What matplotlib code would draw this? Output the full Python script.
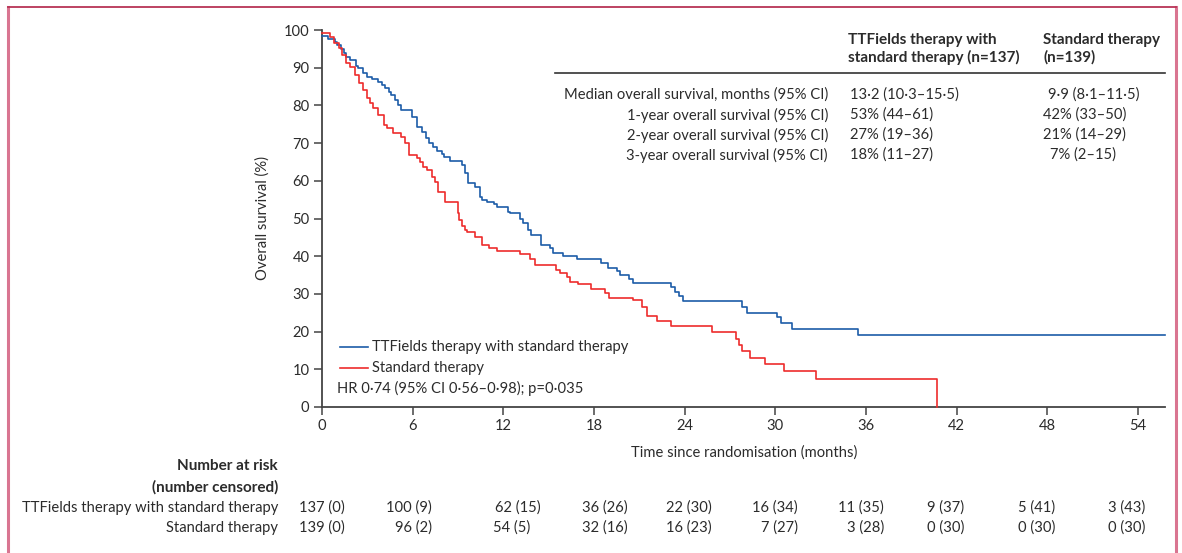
import matplotlib
matplotlib.use("Agg")
import matplotlib.pyplot as plt
from matplotlib.lines import Line2D

plt.rcParams['font.family'] = ['Lato', 'DejaVu Sans']

# ---------------- data ----------------
ttf_times = [0, 0.42, 0.86, 1.0, 1.26, 1.48, 1.6, 1.85, 2.23, 2.4, 2.69, 3.0, 3.33, 3.68, 3.95,
             4.19, 4.43, 4.6, 4.83, 5.05, 5.25, 5.93, 6.26, 6.6, 6.9, 7.1, 7.35, 7.6, 7.92, 8.1,
             8.5, 9.24, 9.45, 9.65, 10.1, 10.45, 10.6, 10.95, 11.4, 11.56, 12.3, 12.45, 13.1,
             13.3, 13.65, 13.85, 14.5, 15.1, 15.3, 15.95, 16.85, 18.5, 18.9, 19.5, 19.7, 20.3,
             20.6, 23.1, 23.35, 23.6, 23.9, 27.8, 28.1, 30.1, 30.4, 31.1, 35.5, 55.8]
ttf_surv = [98.5, 97.6, 96.9, 96.0, 95.0, 93.8, 92.9, 92.0, 90.5, 89.8, 88.5, 87.6, 87.0, 86.1, 85.4,
            84.5, 83.6, 82.8, 81.4, 80.1, 78.8, 77.0, 74.3, 73.0, 71.3, 70.0, 69.0, 68.0, 67.0, 66.4,
            65.3, 64.2, 62.0, 59.5, 58.4, 55.8, 54.9, 54.5, 53.8, 53.1, 51.8, 51.4, 49.8,
            48.7, 47.0, 45.6, 43.0, 42.3, 40.8, 40.1, 39.2, 38.1, 37.0, 36.2, 35.0, 33.9,
            32.8, 31.8, 30.6, 29.5, 28.2, 26.5, 25.0, 23.8, 22.2, 20.7, 19.1, 19.1]

std_times = [0, 0.55, 0.8, 1.1, 1.35, 1.6, 1.85, 2.2, 2.45, 2.7, 3.0, 3.2, 3.4, 3.7, 4.1, 4.3, 4.7,
             5.2, 5.5, 5.75, 6.3, 6.5, 6.7, 6.95, 7.3, 7.45, 7.7, 8.14, 9.0, 9.1, 9.25, 9.45, 9.6,
             10.1, 10.6, 11.05, 11.6, 13.1, 13.8, 14.1, 15.5, 15.75, 16.2, 16.4, 16.96, 17.8, 18.7,
             19.0, 20.56, 21.2, 21.5, 22.15, 23.1, 25.8, 27.4, 27.6, 27.8, 28.3, 29.3, 30.6, 32.7,
             40.7]
std_surv = [99.3, 98.1, 96.5, 95.2, 93.4, 91.3, 90.3, 88.1, 85.9, 84.1, 81.9, 80.6, 79.2, 77.5, 74.8,
            73.9, 72.6, 71.5, 69.9, 66.8, 66.0, 65.1, 63.7, 62.8, 61.0, 59.8, 57.1, 54.5, 51.4,
            49.6, 48.0, 47.0, 46.3, 45.0, 43.0, 42.1, 41.5, 40.6, 39.2, 37.7, 36.3, 35.5, 34.4,
            33.2, 32.5, 31.2, 30.2, 29.0, 28.4, 26.6, 24.2, 22.8, 21.6, 20.0, 18.0, 16.4, 14.9,
            12.9, 11.4, 9.5, 7.3, 0.0]

x_ticks = [0, 6, 12, 18, 24, 30, 36, 42, 48, 54]
y_ticks = [0, 10, 20, 30, 40, 50, 60, 70, 80, 90, 100]

series_names = ["TTFields therapy with standard therapy", "Standard therapy"]
hr_text = "HR 0·74 (95% CI 0·56–0·98); p=0·035"

ttf_risk = ["137 (0)", "100 (9)", "62 (15)", "36 (26)", "22 (30)", "16 (34)", "11 (35)", "9 (37)", "5 (41)", "3 (43)"]
std_risk = ["139 (0)", "96 (2)", "54 (5)", "32 (16)", "16 (23)", "7 (27)", "3 (28)", "0 (30)", "0 (30)", "0 (30)"]

table_col1_header = "TTFields therapy with\nstandard therapy (n=137)"
table_col2_header = "Standard therapy\n(n=139)"
table_rows = ["Median overall survival, months (95% CI)",
              "1-year overall survival (95% CI)",
              "2-year overall survival (95% CI)",
              "3-year overall survival (95% CI)"]
table_col1 = ["13·2 (10·3–15·5)", "53% (44–61)", "27% (19–36)", "18% (11–27)"]
table_col2 = ["9·9 (8·1–11·5)", "42% (33–50)", "21% (14–29)", "7% (2–15)"]

# ---------------- layout ----------------
W, H = 1182, 553
fig = plt.figure(figsize=(W / 100, H / 100), dpi=100)

def fx(px):
    return px / W

def fy(py):
    return 1 - py / H

BLUE = "#1c5ca8"
RED = "#ee2c2c"
TXT = "#2b2b2b"
AX = "#444444"
FS = 10.6
FSB = 11.0

ax_l, ax_r, ax_t, ax_b = 322, 1165, 30, 407
ax = fig.add_axes([fx(ax_l), fy(ax_b), (ax_r - ax_l) / W, (ax_b - ax_t) / H])
ax.step(ttf_times, ttf_surv, where="post", color=BLUE, lw=1.2, clip_on=False, zorder=3)
ax.step(std_times, std_surv, where="post", color=RED, lw=1.2, clip_on=False, zorder=3)
ax.set_xlim(0, 55.8)
ax.set_ylim(0, 100)
ax.set_xticks(x_ticks)
ax.set_yticks(y_ticks)
for s in ["top", "right"]:
    ax.spines[s].set_visible(False)
for s in ["left", "bottom"]:
    ax.spines[s].set_color(AX)
    ax.spines[s].set_linewidth(1.3)
ax.tick_params(direction="out", length=6, width=1.1, color=AX, labelsize=FS, labelcolor=TXT, pad=3)
ax.set_ylabel("Overall survival (%)", fontsize=FS, color=TXT, labelpad=10)
ax.patch.set_alpha(0)

# x label
fig.text(fx(744), fy(453), "Time since randomisation (months)", ha="center", va="center", fontsize=FS, color=TXT)

# legend
fig.add_artist(Line2D([fx(340), fx(368)], [fy(347), fy(347)], color=BLUE, lw=1.2))
fig.add_artist(Line2D([fx(340), fx(368)], [fy(368), fy(368)], color=RED, lw=1.2))
fig.text(fx(372), fy(347), series_names[0], ha="left", va="center", fontsize=FS, color=TXT)
fig.text(fx(372), fy(368), series_names[1], ha="left", va="center", fontsize=FS, color=TXT)
fig.text(fx(337), fy(388), hr_text, ha="left", va="center", fontsize=FS, color=TXT)

# summary table
fig.text(fx(848), fy(49), table_col1_header, ha="left", va="center", fontsize=FSB, color=TXT,
         fontweight="bold", linespacing=1.3)
fig.text(fx(1043), fy(49), table_col2_header, ha="left", va="center", fontsize=FSB, color=TXT,
         fontweight="bold", linespacing=1.3)
fig.add_artist(Line2D([fx(555), fx(1165)], [fy(73), fy(73)], color="#333333", lw=1.2))
row_y = [95, 115, 135, 155]
col2_x = [1048, 1043, 1043, 1050]
for i, lab in enumerate(table_rows):
    fig.text(fx(828), fy(row_y[i]), lab, ha="right", va="center", fontsize=FS, color=TXT)
    fig.text(fx(850), fy(row_y[i]), table_col1[i], ha="left", va="center", fontsize=FS, color=TXT)
    fig.text(fx(col2_x[i]), fy(row_y[i]), table_col2[i], ha="left", va="center", fontsize=FS, color=TXT)

# risk table
fig.text(fx(278), fy(466), "Number at risk", ha="right", va="center", fontsize=FSB, color=TXT, fontweight="bold")
fig.text(fx(278), fy(487), "(number censored)", ha="right", va="center", fontsize=FSB, color=TXT, fontweight="bold")
fig.text(fx(278), fy(508), series_names[0], ha="right", va="center", fontsize=FS, color=TXT)
fig.text(fx(278), fy(528), series_names[1], ha="right", va="center", fontsize=FS, color=TXT)
ttf_right_px = [345, 432, 541, 628, 712, 798, 884, 964, 1055, 1145]
std_right_px = [345, 432, 530, 628, 712, 798, 884, 964, 1055, 1145]
for i in range(len(x_ticks)):
    fig.text(fx(ttf_right_px[i]), fy(508), ttf_risk[i], ha="right", va="center", fontsize=FS, color=TXT)
    fig.text(fx(std_right_px[i]), fy(528), std_risk[i], ha="right", va="center", fontsize=FS, color=TXT)

# frame border
fig.add_artist(Line2D([fx(8), fx(8)], [fy(7), fy(553)], color="#d97591", lw=2.2))
fig.add_artist(Line2D([fx(1176), fx(1176)], [fy(7), fy(553)], color="#d97591", lw=2.2))
fig.add_artist(Line2D([fx(8), fx(1176)], [fy(7), fy(7)], color="#b83456", lw=1.3))

fig.savefig("out.png", dpi=100)
